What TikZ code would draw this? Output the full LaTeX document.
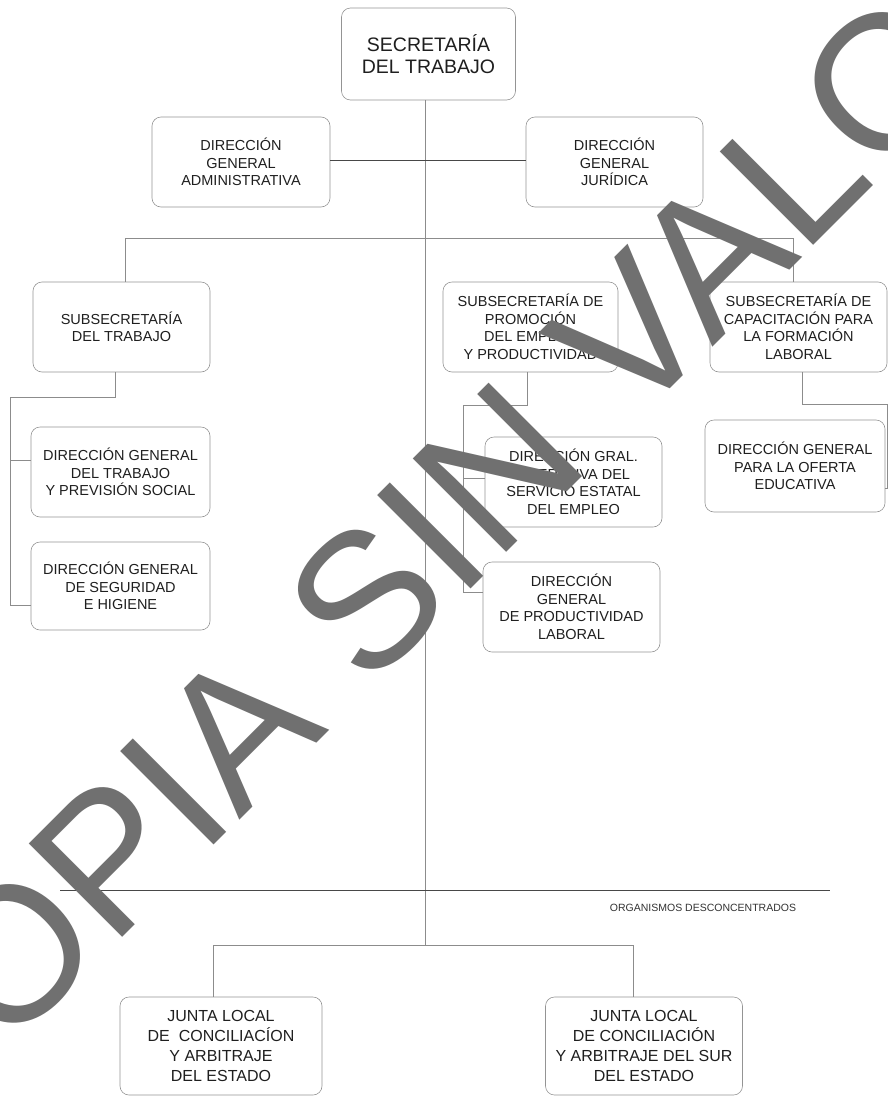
\documentclass[tikz,border=0pt]{standalone}
\usepackage{fontspec}
\setmainfont{Liberation Sans}
\begin{document}
\begin{tikzpicture}[x=1pt,y=-1pt,
  box/.style={draw=black!42, line width=0.6pt, rounded corners=9pt, align=center, inner sep=0pt, text=black!88, font=\fontsize{14.5}{17.5}\selectfont},
  bigbox/.style={box, font=\fontsize{19.5}{22.5}\selectfont},
  juntabox/.style={box, font=\fontsize{16}{20}\selectfont},
  conn/.style={draw=black!45, line width=0.55pt},
  dark/.style={draw=black!72, line width=0.9pt},
  wmark/.style={rotate=45, text=black!56, inner sep=0pt, font=\fontsize{192}{192}\selectfont}
]
\useasboundingbox (0,0) rectangle (888,1098);
\fill[white] (0,0) rectangle (888,1098);

% boxes
\node[bigbox, minimum width=174pt, minimum height=92pt] (sec) at (428.5,54) {SECRETARÍA\\DEL TRABAJO};
\node[box, minimum width=178pt, minimum height=90pt] (adm) at (241,162) {DIRECCIÓN\\GENERAL\\ADMINISTRATIVA};
\node[box, minimum width=177pt, minimum height=90pt] (jur) at (614.5,162) {DIRECCIÓN\\GENERAL\\JURÍDICA};

\node[box, minimum width=177pt, minimum height=90pt] (subT) at (121.5,327) {SUBSECRETARÍA\\DEL TRABAJO};
\node[box, minimum width=175pt, minimum height=90pt] (subP) at (530.5,327) {SUBSECRETARÍA DE\\PROMOCIÓN\\DEL EMPLEO\\Y PRODUCTIVIDAD};
\node[box, minimum width=177pt, minimum height=90pt] (subC) at (798.5,327) {SUBSECRETARÍA DE\\CAPACITACIÓN PARA\\LA FORMACIÓN\\LABORAL};

\node[box, minimum width=179pt, minimum height=90pt] (dgT) at (120.5,472) {DIRECCIÓN GENERAL\\DEL TRABAJO\\Y PREVISIÓN SOCIAL};
\node[box, minimum width=179pt, minimum height=88pt] (dgS) at (120.5,586) {DIRECCIÓN GENERAL\\DE SEGURIDAD\\E HIGIENE};

\node[box, minimum width=177pt, minimum height=90pt] (dgO) at (573.5,482) {DIRECCIÓN GRAL.\\OPERATIVA DEL\\SERVICIO ESTATAL\\DEL EMPLEO};
\node[box, minimum width=177pt, minimum height=90pt] (dgP) at (571.5,607) {DIRECCIÓN\\GENERAL\\DE PRODUCTIVIDAD\\LABORAL};

\node[box, minimum width=180pt, minimum height=92pt] (dgE) at (795,466) {DIRECCIÓN GENERAL\\PARA LA OFERTA\\EDUCATIVA};

\node[juntabox, minimum width=202pt, minimum height=98pt] (jL) at (221,1046) {JUNTA LOCAL\\DE~~CONCILIACÍON\\Y ARBITRAJE\\DEL ESTADO};
\node[juntabox, minimum width=197pt, minimum height=98pt] (jR) at (644,1046) {JUNTA LOCAL\\DE CONCILIACIÓN\\Y ARBITRAJE DEL SUR\\DEL ESTADO};

\node[text=black!80, font=\fontsize{10.5}{12}\selectfont, inner sep=0pt] (org) at (703,908) {ORGANISMOS DESCONCENTRADOS};

% coordinates
\coordinate (tb) at (425,945);
\coordinate (bl) at (125,238);
\coordinate (br) at (793,238);
\coordinate (l1) at (115,397);
\coordinate (l0) at (10,397);
\coordinate (l2) at (10,460);
\coordinate (l3) at (10,605);
\coordinate (m1) at (527,405);
\coordinate (m0) at (463,405);
\coordinate (m2) at (463,478);
\coordinate (m3) at (463,592);
\coordinate (r1) at (802,404);
\coordinate (r0) at (887,404);
\coordinate (r2) at (887,488);
\coordinate (hl) at (60,890);
\coordinate (hr) at (830,890);
\coordinate (jl) at (213,945);
\coordinate (jr) at (633,945);

% connectors
\draw[conn] (sec.south -| tb) -- (tb);
\draw[dark] (adm.east |- 0,160) -- (jur.west |- 0,160);
\draw[conn] (bl) -- (br);
\draw[conn] (bl) -- (bl |- subT.north);
\draw[conn] (br) -- (br |- subC.north);
\draw[conn] (l1 |- subT.south) -- (l1) -- (l0) -- (l3) -- (l3 -| dgS.west);
\draw[conn] (l2) -- (l2 -| dgT.west);
\draw[conn] (m1 |- subP.south) -- (m1) -- (m0) -- (m3) -- (m3 -| dgP.west);
\draw[conn] (m2) -- (m2 -| dgO.west);
\draw[conn] (r1 |- subC.south) -- (r1) -- (r0) -- (r2) -- (r2 -| dgE.east);
\draw[dark] (hl) -- (hr);
\draw[conn] (jl) -- (jr);
\draw[conn] (jl) -- (jl |- jL.north);
\draw[conn] (jr) -- (jr |- jR.north);

% watermark
\begin{scope}
\clip (0,0) rectangle (888,1098);
\node[wmark] (wm) at (448,518) {COPIA SIN VALOR};
\end{scope}
\end{tikzpicture}
\end{document}
